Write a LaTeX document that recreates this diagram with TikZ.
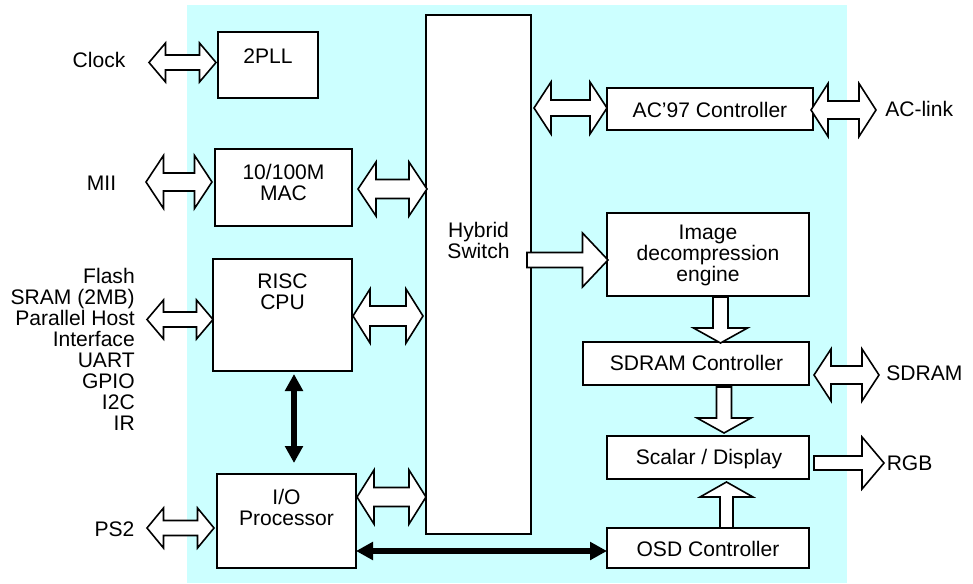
\documentclass[tikz,border=0pt]{standalone}
\usepackage{fontspec}
\setmainfont{Liberation Sans}
\usetikzlibrary{arrows.meta,calc,fit}
\definecolor{bgcyan}{RGB}{204,255,255}
\tikzset{
  box/.style={draw=black, fill=white, line width=1.4pt, inner sep=0pt, outer sep=0pt},
  lbl/.style={inner sep=0pt, font=\fontsize{15.8pt}{15.75pt}\selectfont, align=center},
  blockarrow/.style={draw=black, fill=white, line width=1.2pt, line join=miter},
  bus/.style={line width=4.2pt, {Triangle[length=12.75pt,width=13pt]}-{Triangle[length=12.75pt,width=13pt]}}
}
% #1 x-left, #2 x-right, #3 y, #4 head half, #5 shaft half, #6 head length
\newcommand\BiArrowH[6]{%
  \path[blockarrow] (#1,#3) -- ({#1+#6},{#3-#4}) -- ({#1+#6},{#3-#5}) -- ({#2-#6},{#3-#5})
    -- ({#2-#6},{#3-#4}) -- (#2,#3) -- ({#2-#6},{#3+#4}) -- ({#2-#6},{#3+#5})
    -- ({#1+#6},{#3+#5}) -- ({#1+#6},{#3+#4}) -- cycle;}
\newcommand\ArrowRt[6]{%
  \path[blockarrow] (#1,{#3-#5}) -- ({#2-#6},{#3-#5}) -- ({#2-#6},{#3-#4}) -- (#2,#3)
    -- ({#2-#6},{#3+#4}) -- ({#2-#6},{#3+#5}) -- (#1,{#3+#5}) -- cycle;}
% #1 x, #2 y-start, #3 y-tip, #4 head half, #5 shaft half, #6 head length
\newcommand\ArrowVt[6]{%
  \path[blockarrow] let \n1={ifthenelse(#3>#2,1,-1)} in
    ({#1-#5},#2) -- ({#1-#5},{#3-\n1*#6}) -- ({#1-#4},{#3-\n1*#6}) -- (#1,#3)
    -- ({#1+#4},{#3-\n1*#6}) -- ({#1+#5},{#3-\n1*#6}) -- ({#1+#5},#2) -- cycle;}
\begin{document}
\begin{tikzpicture}[x=0.75pt,y=-0.75pt]
\useasboundingbox (0,0) rectangle (973,584);
\fill[bgcyan] (187,5) rectangle (847,583);

% boxes
\node[box, fit={(218,32) (318,98)}] (pll) {};
\node[box, fit={(215,149) (352,226)}] (mac) {};
\node[box, fit={(213,259) (352,371)}] (risc) {};
\node[box, fit={(217,474) (356,568)}] (io) {};
\node[box, fit={(426,15) (531,534)}] (sw) {};
\node[box, fit={(607,88) (813,130)}] (ac97) {};
\node[box, fit={(607,213) (809,296)}] (img) {};
\node[box, fit={(583,342) (809,385)}] (sdc) {};
\node[box, fit={(607,436) (809,479)}] (scal) {};
\node[box, fit={(607,528) (809,568)}] (osd) {};

% box texts
\node[lbl] (tpll) at (268,56) {2PLL};
\node[lbl] (tmac) at (283.5,182.5) {10/100M\\MAC};
\node[lbl] (trisc) at (282.5,291.5) {RISC\\CPU};
\node[lbl] (tio) at (286.5,507.5) {I/O\\Processor};
\node[lbl] (tsw) at (478.5,240) {Hybrid\\Switch};
\node[lbl] (tac) at (710,110) {AC’97 Controller};
\node[lbl] (timg) at (708,255) {Image\\decompression\\engine};
\node[lbl] (tsdc) at (696.5,363) {SDRAM Controller};
\node[lbl] (tscal) at (709,459) {Scalar / Display};
\node[lbl] (tosd) at (708,549) {OSD Controller};

% outside labels
\node[lbl] (clock) at (99,60) {Clock};
\node[lbl] (mii) at (101.5,183) {MII};
\node[lbl, anchor=north east, align=right] (bus) at (135,268) {Flash\\SRAM (2MB)\\Parallel Host\\Interface\\UART\\GPIO\\I2C\\IR};
\node[lbl] (ps2) at (114.5,529) {PS2};
\node[lbl, anchor=west] (aclink) at (885,109) {AC-link};
\node[lbl, anchor=west] (sdram) at (886,373) {SDRAM};
\node[lbl, anchor=west] (rgb) at (886.5,463) {RGB};

% block arrows
\BiArrowH{149}{216}{62.5}{19.5}{7.5}{16.5}
\BiArrowH{146}{212}{182}{26.5}{9}{17.5}
\BiArrowH{358}{427}{189}{27}{9.5}{18}
\BiArrowH{147}{213}{319.5}{19.5}{7.5}{16.5}
\BiArrowH{353}{423}{316}{27}{10}{17}
\BiArrowH{147}{214}{528}{20}{7.5}{16.5}
\BiArrowH{357}{426}{497}{27}{9.5}{17}
\BiArrowH{534}{607}{108}{26}{8}{17}
\BiArrowH{811}{876}{110}{26.5}{9}{17}
\ArrowRt{527}{608}{260}{27}{7.5}{25.5}
\ArrowVt{720.5}{297}{343}{27}{7.5}{15}
\BiArrowH{814}{879}{375}{26}{9}{17}
\ArrowVt{724}{387}{433}{27}{7.5}{15}
\ArrowRt{814}{884}{463}{26}{7}{22}
\ArrowVt{726.5}{528}{482}{26.5}{6.5}{15}

% thick bus arrows
\coordinate (busy) at (0,551);
\draw[bus] ($(risc.south)+(11.5,3)$) -- ($(io.north)+(7.5,-11)$);
\draw[bus] (io.east |- busy) -- (osd.west |- busy);
\end{tikzpicture}
\end{document}
